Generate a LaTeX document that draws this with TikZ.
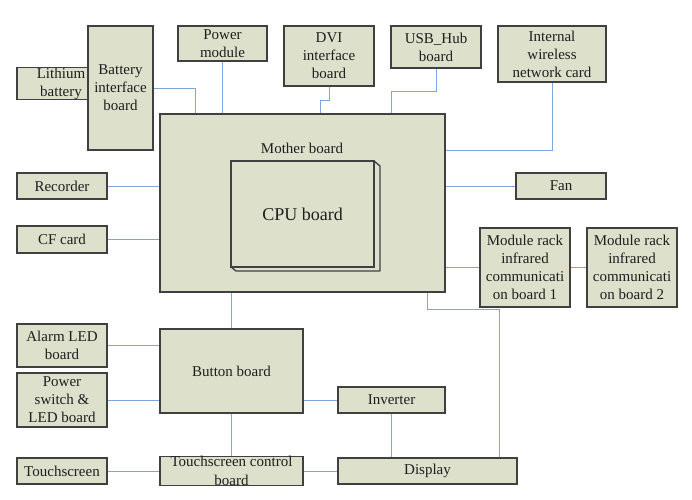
\documentclass[tikz,border=0pt]{standalone}
\usepackage{fontspec}
\setmainfont{Liberation Serif}
\definecolor{boxfill}{RGB}{221,224,203}
\definecolor{boxline}{RGB}{64,64,64}
\definecolor{linkblue}{RGB}{125,165,222}
\definecolor{txt}{RGB}{30,30,30}
\tikzset{
  box/.style={draw=boxline, fill=boxfill, line width=1.3pt, inner sep=0pt, align=center,
    text=txt, font=\fontsize{15}{18}\selectfont},
  link/.style={draw=linkblue, line width=1pt},
  lbl/.style={inner sep=0pt, text=txt, font=\fontsize{15}{18}\selectfont}
}
\begin{document}
\begin{tikzpicture}[x=1pt,y=-1pt]
\useasboundingbox (0,0) rectangle (692,499);
% nodes
\node[box, minimum width=88pt, minimum height=27pt] (lith) at (61,83.5) {Lithium\\battery};
\node[box, minimum width=65pt, minimum height=124pt] (bat) at (120.5,88) {Battery\\interface\\board};
\node[box, minimum width=89pt, minimum height=35pt] (pwr) at (222.5,43.5) {Power\\module};
\node[box, minimum width=90pt, minimum height=60pt] (dvi) at (329,56) {DVI\\interface\\board};
\node[box, minimum width=90pt, minimum height=42pt] (usb) at (436,47) {USB\_Hub\\board};
\node[box, minimum width=108pt, minimum height=56pt] (wifi) at (552,54) {Internal\\wireless\\network card};
\node[box, minimum width=285pt, minimum height=178pt] (mb) at (302.5,203) {};
\node[lbl] (mblbl) at (302,148) {Mother board};
\filldraw[draw=boxline, fill=boxfill, line width=1.3pt, line join=round]
  (374,161) -- (380,166) -- (380,271) -- (236,271) -- (231,267) -- cycle;
\node[box, minimum width=143pt, minimum height=106pt, font=\fontsize{18}{20}\selectfont] (cpu) at (302.5,214) {CPU board};
\node[box, minimum width=90pt, minimum height=26pt] (rec) at (62,186) {Recorder};
\node[box, minimum width=90pt, minimum height=27pt] (cf) at (62,239.5) {CF card};
\node[box, minimum width=90pt, minimum height=26pt] (fan) at (561,186) {Fan};
\node[box, minimum width=90pt, minimum height=79pt] (mr1) at (525,267.5) {Module rack\\infrared\\communicati\\on board 1};
\node[box, minimum width=90pt, minimum height=79pt] (mr2) at (632,267.5) {Module rack\\infrared\\communicati\\on board 2};
\node[box, minimum width=90pt, minimum height=43pt] (alarm) at (62,345.5) {Alarm LED\\board};
\node[box, minimum width=90pt, minimum height=54pt] (psw) at (62,400) {Power\\switch \&\\LED board};
\node[box, minimum width=143pt, minimum height=84pt] (btn) at (231.5,371) {Button board};
\node[box, minimum width=107pt, minimum height=26pt] (inv) at (391.5,400) {Inverter};
\node[box, minimum width=90pt, minimum height=26pt] (ts) at (62,471) {Touchscreen};
\node[box, minimum width=143pt, minimum height=26pt, font=\fontsize{15}{19}\selectfont] (tsc) at (231.5,471) {Touchscreen control\\board};
\node[box, minimum width=179pt, minimum height=26pt] (disp) at (427.5,471) {Display};
% connectors
\draw[link] (bat.east) -| ([xshift=-107.5pt]mb.north);
\draw[link] (pwr.south) -- (pwr.south |- mb.north);
\draw[link] (dvi.south) -- ++(0,14) -| ([xshift=17.5pt]mb.north);
\draw[link] (usb.south) -- ++(0,23) -| ([xshift=88.5pt]mb.north);
\draw[link] (wifi.south) |- ([yshift=53pt]mb.east);
\draw[link] (rec.east) -- (rec.east -| mb.west);
\draw[link] (cf.east) -- (cf.east -| mb.west);
\draw[link] (fan.west) -- (fan.west -| mb.east);
\draw[link] (mr1.west) -- (mr1.west -| mb.east);
\draw[link] (mr1.east) -- (mr2.west);
\draw[link] (btn.north |- mb.south) -- (btn.north);
\draw[link] (disp.north |- mb.south) -- ++(0,17) -| ([xshift=71.5pt]disp.north);
\draw[link] (alarm.east) -- (alarm.east -| btn.west);
\draw[link] (psw.east) -- (psw.east -| btn.west);
\draw[link] (inv.west -| btn.east) -- (inv.west);
\draw[link] (btn.south) -- (tsc.north);
\draw[link] (inv.south) -- (inv.south |- disp.north);
\draw[link] (ts.east) -- (tsc.west);
\draw[link] (tsc.east) -- (disp.west);
\end{tikzpicture}
\end{document}
